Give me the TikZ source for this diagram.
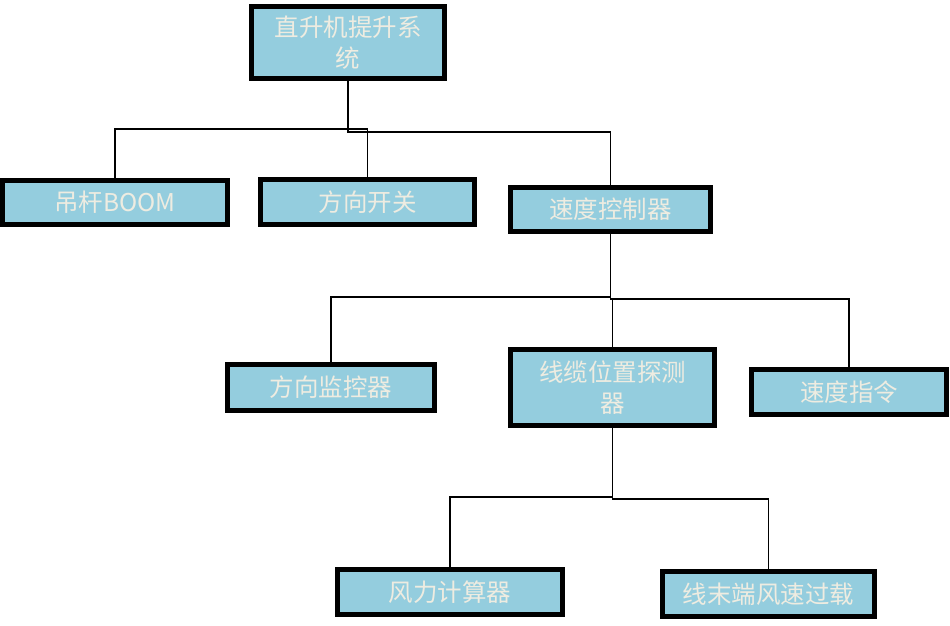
\documentclass[tikz,border=0pt]{standalone}
\usepackage{fontspec}
\newfontfamily\cjk{Noto Sans CJK SC}
\definecolor{boxfill}{HTML}{94CDDE}
\definecolor{boxtext}{HTML}{EEECE1}
\begin{document}
\begin{tikzpicture}[x=1pt,y=-1pt,
  box/.style={draw=black, line width=5pt, fill=boxfill, text=boxtext,
    inner sep=0pt, align=center,
    font=\cjk\fontsize{24.5pt}{31pt}\selectfont},
  link/.style={draw=black, line width=1.6pt}]
\useasboundingbox (0,0) rectangle (950,625);
\node[box, minimum width=193pt, minimum height=72pt] (A) at (348,42.5) {直升机提升系\\统};
\node[box, minimum width=225pt, minimum height=44pt] (B) at (115,202.5) {吊杆BOOM};
\node[box, minimum width=214pt, minimum height=45pt] (C) at (367.5,202) {方向开关};
\node[box, minimum width=200pt, minimum height=44pt] (D) at (610.5,209.5) {速度控制器};
\node[box, minimum width=207pt, minimum height=46pt] (E) at (331,387.5) {方向监控器};
\node[box, minimum width=204pt, minimum height=76pt] (F) at (612.5,387.5) {线缆位置探测\\器};
\node[box, minimum width=195pt, minimum height=45pt] (G) at (849,392) {速度指令};
\node[box, minimum width=225pt, minimum height=45pt] (H) at (450,592) {风力计算器};
\node[box, minimum width=212pt, minimum height=45pt] (I) at (768.5,594) {线末端风速过载};
\draw[link] (A.south) -- (A.south |- 0,129) -| (B.north);
\draw[link] (A.south) -- (A.south |- 0,129) -| (C.north);
\draw[link] (A.south) -- (A.south |- 0,132) -| (D.north);
\draw[link] (D.south) -- (D.south |- 0,297) -| (E.north);
\draw[link] (D.south) -- (D.south |- 0,299) -| (F.north);
\draw[link] (D.south) -- (D.south |- 0,299) -| (G.north);
\draw[link] (F.south) -- (F.south |- 0,497) -| (H.north);
\draw[link] (F.south) -- (F.south |- 0,499) -| (I.north);
\end{tikzpicture}
\end{document}
